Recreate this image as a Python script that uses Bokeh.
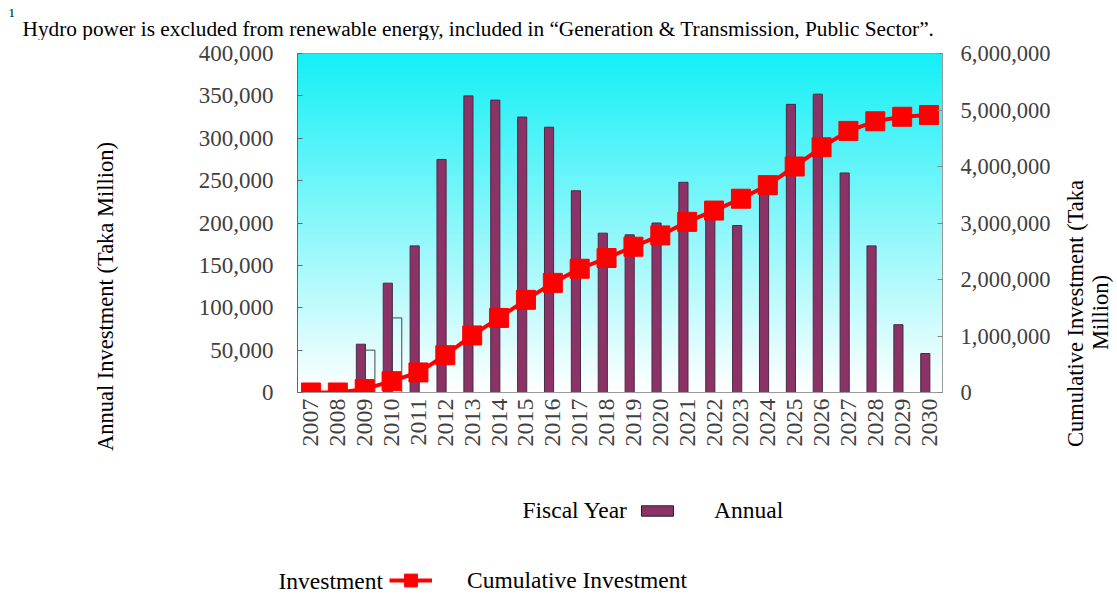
import math
import numpy as np
from bokeh.plotting import figure
from bokeh.layouts import column, row
from bokeh.models import (ColumnDataSource, Range1d, LinearAxis, FixedTicker,
                          NumeralTickFormatter, Label, Legend, LegendItem)
from bokeh.transform import dodge
from bokeh.embed import file_html
from bokeh.resources import INLINE

# ---------------- data ----------------
years = [str(y) for y in range(2007, 2031)]
annual = [None, None, 57000, 129000, 173000, 275000, 350000, 345000, 325000,
          313000, 238000, 188000, 186000, 200000, 248000, 213000, 197000,
          255000, 340000, 352000, 259000, 173000, 80000, 46000]
hollow = [None, None, 50000, 88000] + [None] * 20
cumulative = [0, 0, 60000, 200000, 355000, 660000, 1010000, 1320000, 1640000,
              1940000, 2190000, 2380000, 2580000, 2780000, 3020000, 3220000,
              3430000, 3670000, 4000000, 4340000, 4630000, 4800000, 4880000,
              4910000]
left_ticks = list(range(0, 400001, 50000))
right_ticks = list(range(0, 6000001, 1000000))

note_mark = "1"
note = "Hydro power is excluded from renewable energy, included in \u201cGeneration & Transmission, Public Sector\u201d."
ylabel_left = "Annual Investment (Taka Million)"
ylabel_right_1 = "Cumulative Investment (Taka"
ylabel_right_2 = "Million)"
xlabel = "Fiscal Year"
legend_annual = "Annual"
legend_inv = "Investment"
legend_cum = "Cumulative Investment"

# ---------------- styles ----------------
SERIF = "Liberation Serif"
BAR_FILL = "#8b3366"
BAR_LINE = "#4a2a42"
RED = "#ff0000"
TICK_COLOR = "#404040"

# ---------------- layout sizes (page pixels) ----------------
TOTAL_W = 1117
TOP_H = 40
MID_H = 423
BOT_H = 130
LEFT_W = 187
MAIN_W = 866
RIGHT_W = TOTAL_W - LEFT_W - MAIN_W
FRAME_H = 339
MAIN_TOP = 13
N = len(years)


def text_panel(w, h):
    f = figure(width=w, height=h, output_backend="svg", toolbar_location=None,
               x_range=Range1d(0, w), y_range=Range1d(0, h),
               x_axis_type=None, y_axis_type=None, min_border=0,
               title=None, frame_align=False)
    f.xgrid.visible = False
    f.ygrid.visible = False
    f.outline_line_color = None
    f.background_fill_color = "white"
    f.border_fill_color = "white"
    return f


def add_text(f, text, x, y, size="22.5px", align="left", angle=0,
             baseline="middle"):
    f.add_layout(Label(x=x, y=y, text=text, text_font=SERIF,
                       text_font_size=size, text_color="black",
                       text_align=align, text_baseline=baseline, angle=angle))


# ---------------- top note ----------------
top = text_panel(TOTAL_W, TOP_H)
add_text(top, note_mark, 8, TOP_H - 12, size="13px", baseline="alphabetic")
add_text(top, note, 22, TOP_H - 28, size="21.3px", baseline="alphabetic")

# ---------------- main chart ----------------
src = ColumnDataSource(dict(x=list(range(N)), annual=annual, hollow=hollow,
                            cum=cumulative))

p = figure(width=MAIN_W, height=MID_H, output_backend="svg",
           toolbar_location=None, title=None,
           x_range=Range1d(-0.5, N - 0.5), y_range=Range1d(0, 400000),
           min_border_left=110, min_border_right=110,
           min_border_top=MAIN_TOP,
           min_border_bottom=MID_H - MAIN_TOP - FRAME_H)
p.extra_y_ranges = {"cum": Range1d(0, 6000000)}
p.xgrid.visible = False
p.ygrid.visible = False
p.outline_line_color = "#9a9a9a"
p.background_fill_color = "white"
p.border_fill_color = "white"

# gradient background (cyan top -> white bottom)
G = 200
img = np.empty((G, 1), dtype=np.uint32)
view = img.view(dtype=np.uint8).reshape((G, 1, 4))
c_top = np.array([20, 240, 246])
c_bot = np.array([255, 255, 255])
for i in range(G):
    t = i / (G - 1)
    c = c_bot + (c_top - c_bot) * t
    view[i, 0, :3] = c.astype(np.uint8)
    view[i, 0, 3] = 255
p.image_rgba(image=[img], x=-0.5, y=0, dw=N, dh=400000, level="image")

p.vbar(x=dodge("x", -0.14), top="annual", width=0.34, source=src,
       fill_color=BAR_FILL, line_color=BAR_LINE, line_width=1)
p.vbar(x=dodge("x", 0.2), top="hollow", width=0.36, source=src,
       fill_alpha=0, line_color="#3d4a4a", line_width=1)
p.line(x="x", y="cum", source=src, y_range_name="cum",
       line_color=RED, line_width=4)
p.scatter(x="x", y="cum", source=src, y_range_name="cum",
          marker="square", size=19, fill_color=RED, line_color=RED)

xa = p.xaxis[0]
xa.ticker = FixedTicker(ticks=list(range(N)))
xa.major_label_overrides = {i: y for i, y in enumerate(years)}
xa.major_label_orientation = math.pi / 2
xa.major_label_text_font = SERIF
xa.major_label_text_font_size = "24px"
xa.major_label_text_color = TICK_COLOR
xa.major_label_standoff = 6
xa.major_tick_in = 0
xa.major_tick_out = 0
xa.minor_tick_line_color = None
xa.axis_line_color = "#9a9a9a"

ya = p.yaxis[0]
ya.ticker = FixedTicker(ticks=left_ticks)
ya.formatter = NumeralTickFormatter(format="0,0")
ya.major_label_text_font = SERIF
ya.major_label_text_font_size = "23px"
ya.major_label_text_color = TICK_COLOR
ya.major_label_standoff = 24
ya.major_tick_in = 5
ya.major_tick_out = 0
ya.minor_tick_line_color = None
ya.axis_line_color = "#666666"
ya.major_tick_line_color = "#666666"

ra = LinearAxis(y_range_name="cum", ticker=FixedTicker(ticks=right_ticks),
                formatter=NumeralTickFormatter(format="0,0"))
ra.major_label_text_font = SERIF
ra.major_label_text_font_size = "22.5px"
ra.major_label_text_color = TICK_COLOR
ra.major_label_standoff = 18
ra.major_tick_in = 5
ra.major_tick_out = 0
ra.minor_tick_line_color = None
ra.axis_line_color = "#9a9a9a"
ra.major_tick_line_color = "#888888"
p.add_layout(ra, "right")

# ---------------- side titles ----------------
MID_BOTTOM = TOP_H + MID_H
left = text_panel(LEFT_W, MID_H)
add_text(left, ylabel_left, 105, MID_BOTTOM - 296, align="center",
         angle=math.pi / 2)

right = text_panel(RIGHT_W, MID_H)
x0 = TOTAL_W - RIGHT_W
add_text(right, ylabel_right_1, 1075 - x0, MID_BOTTOM - 313,
         align="center", angle=math.pi / 2)
add_text(right, ylabel_right_2, 1100 - x0, MID_BOTTOM - 312,
         align="center", angle=math.pi / 2)

# ---------------- bottom legend ----------------
BOT_BOTTOM = MID_BOTTOM + BOT_H
bot = text_panel(TOTAL_W, BOT_H)
# single off-screen sample so that the legend glyphs have visuals to draw
dummy = ColumnDataSource(dict(x=[-500], y=[-500], top=[-400]))
r_bar = bot.vbar(x="x", top="top", bottom="y", width=1, source=dummy,
                 fill_color=BAR_FILL, line_color="#222222", line_width=1)
r_line = bot.line(x="x", y="y", source=dummy, line_color=RED, line_width=4)
r_mark = bot.scatter(x="x", y="y", source=dummy, marker="square", size=14,
                     fill_color=RED, line_color=RED)

add_text(bot, xlabel, 522, BOT_BOTTOM - 509, size="23.5px")
add_text(bot, legend_inv, 278, BOT_BOTTOM - 580, size="23.5px")

common = dict(padding=0, margin=0, border_line_alpha=0,
              background_fill_alpha=0, label_text_font=SERIF,
              label_text_font_size="23.5px", label_text_color="black",
              label_height=24)
leg1 = Legend(items=[LegendItem(label=legend_annual, renderers=[r_bar])],
              location=(637, BOT_BOTTOM - 510 - 14),
              glyph_width=40, glyph_height=13, label_standoff=37, **common)
leg2 = Legend(items=[LegendItem(label=legend_cum,
                                renderers=[r_line, r_mark])],
              location=(389, BOT_BOTTOM - 580 - 16),
              glyph_width=43, glyph_height=32, label_standoff=35, **common)
bot.add_layout(leg1)
bot.add_layout(leg2)

layout = column(top, row(left, p, right), bot)
open("out.html", "w").write(file_html(layout, INLINE))
